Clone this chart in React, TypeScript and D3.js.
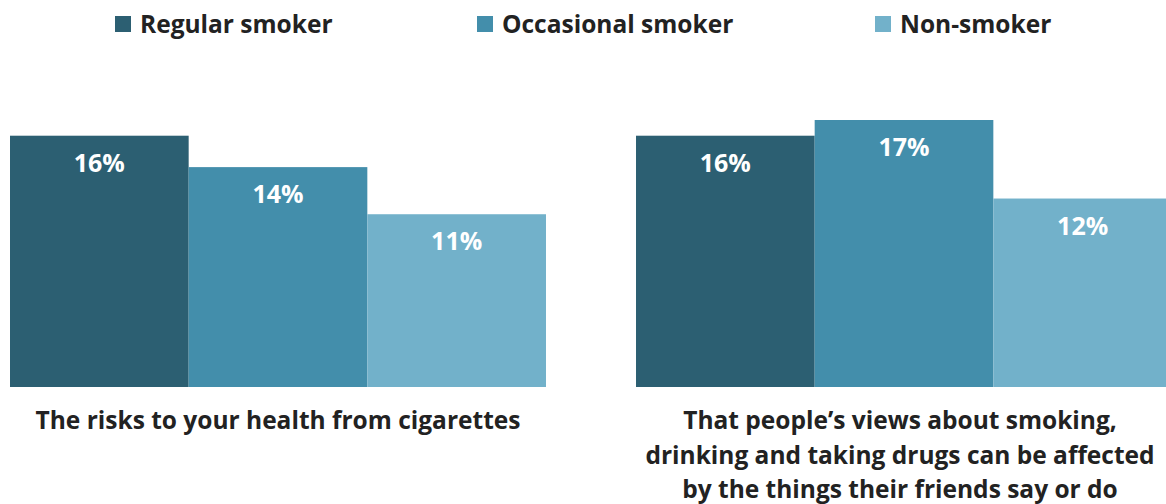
import React from "react";
import * as d3 from "d3";

const categories = [
  "The risks to your health from cigarettes",
  "That people’s views about smoking, drinking and taking drugs can be affected by the things their friends say or do",
];
const seriesNames = ["Regular smoker", "Occasional smoker", "Non-smoker"];
const regularValues = [16, 16];
const occasionalValues = [14, 17];
const nonSmokerValues = [11, 12];
const seriesColors = ["#2c5f72", "#438eab", "#72b1ca"];

const W = 1166;
const H = 504;
const FONT = "'Open Sans', 'Segoe UI', sans-serif";

function wrap(text: string, maxChars: number): string[] {
  const words = text.split(" ");
  const lines: string[] = [];
  let cur = "";
  for (const w of words) {
    const next = cur ? cur + " " + w : w;
    if (next.length > maxChars && cur) {
      lines.push(cur);
      cur = w;
    } else cur = next;
  }
  if (cur) lines.push(cur);
  return lines;
}

export default function App() {
  const values = [regularValues, occasionalValues, nonSmokerValues];
  const x0 = d3.scaleBand<string>().domain(categories).range([10, 1172]).paddingInner(0.1438).paddingOuter(0);
  const x1 = d3.scaleBand<string>().domain(seriesNames).range([0, x0.bandwidth()]).padding(0);
  const y = d3.scaleLinear().domain([0, 17]).range([387, 120]);
  const legendX = [115, 477, 875];

  return (
    <div style={{ position: "fixed", left: 0, top: 0, width: W, height: H, background: "#fff" }}>
      <svg width={W} height={H} style={{ display: "block" }} fontFamily={FONT}>
        {seriesNames.map((s, i) => (
          <g key={s} transform={`translate(${legendX[i]},0)`}>
            <rect x={0} y={16} width={16} height={16} fill={seriesColors[i]} />
            <text x={25} y={33} fontSize={24.5} fontWeight={700} fill="#222">{s}</text>
          </g>
        ))}
        {categories.map((c, ci) => (
          <g key={c} transform={`translate(${x0(c)},0)`}>
            {seriesNames.map((s, si) => {
              const v = values[si][ci];
              const bx = x1(s)!;
              return (
                <g key={s}>
                  <rect x={bx} y={y(v)} width={x1.bandwidth()} height={y(0) - y(v)} fill={seriesColors[si]} />
                  <text x={bx + x1.bandwidth() / 2} y={y(v) + 36} textAnchor="middle" fontSize={25} fontWeight={700} fill="#fff">
                    {v}%
                  </text>
                </g>
              );
            })}
            {wrap(c, 41).map((line, li) => (
              <text key={li} x={x0.bandwidth() / 2 - (ci === 1 ? 4 : 0)} y={429 + li * 34.5} textAnchor="middle" fontSize={24.5} fontWeight={700} fill="#222">
                {line}
              </text>
            ))}
          </g>
        ))}
      </svg>
    </div>
  );
}
